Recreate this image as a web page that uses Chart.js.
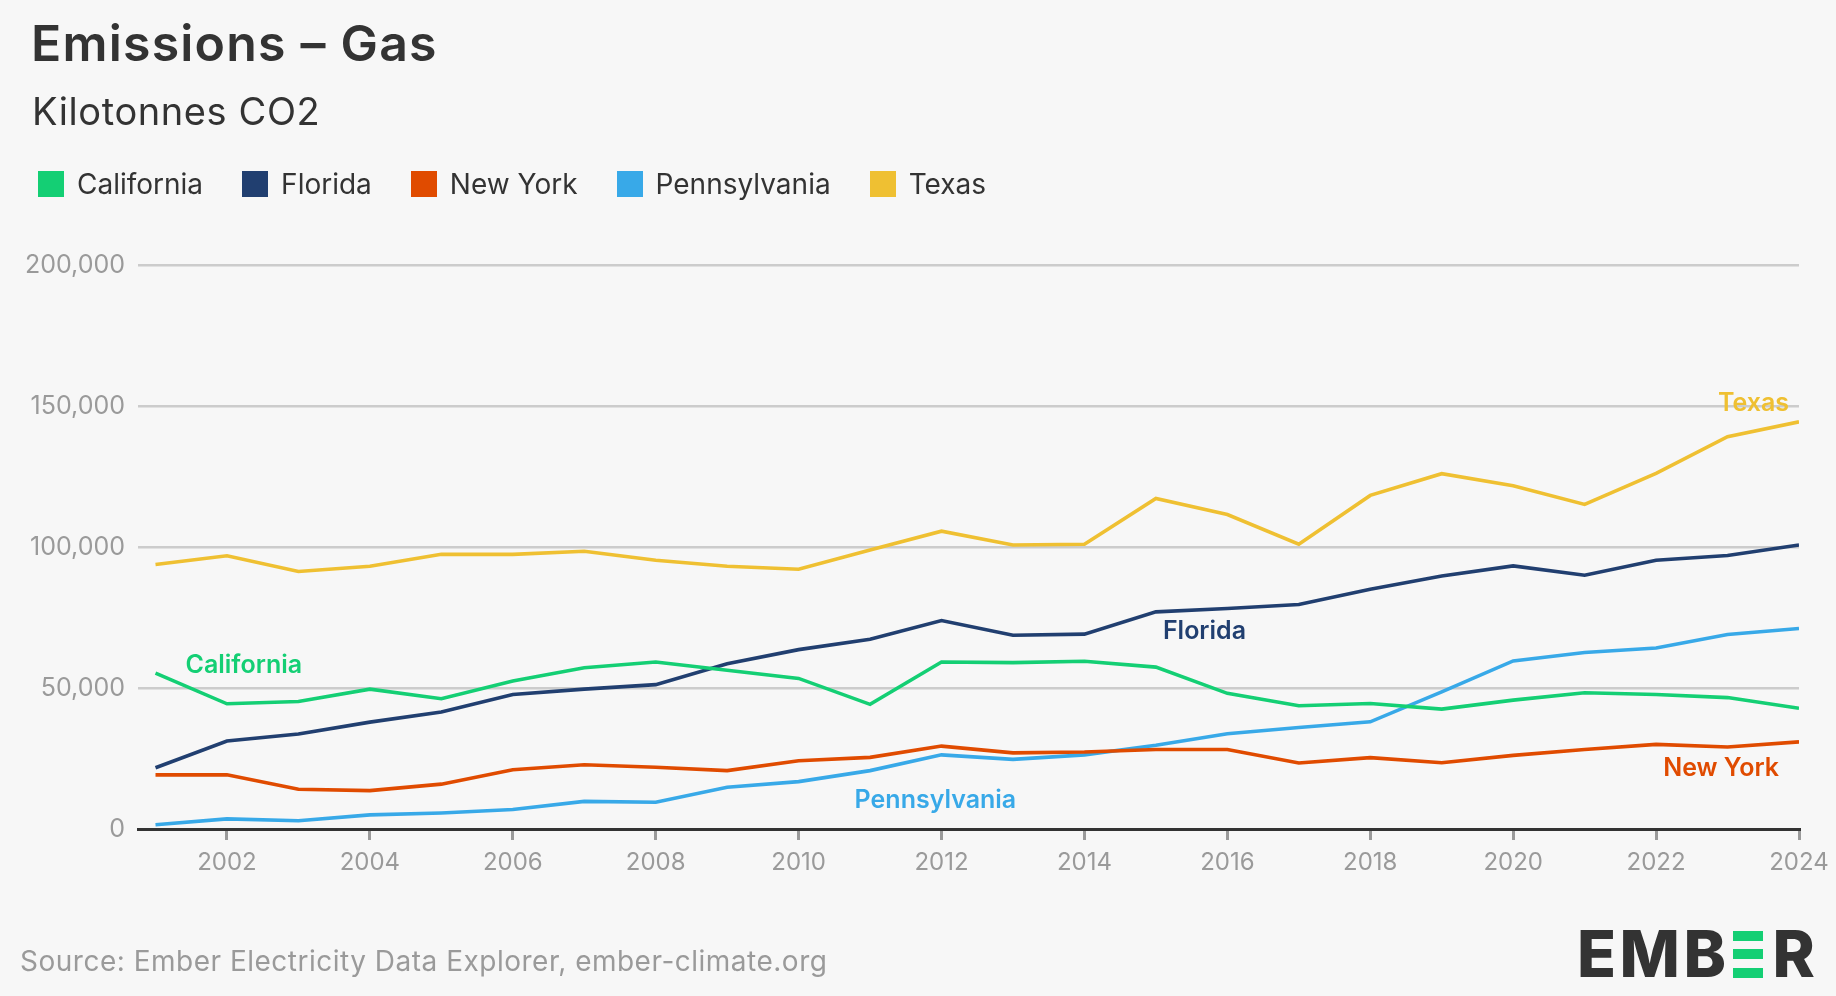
<!DOCTYPE html>
<html>
<head>
<meta charset="utf-8">
<script src="https://cdn.jsdelivr.net/npm/chart.js@4.4.1/dist/chart.umd.min.js"></script>
<style>
  html, body { margin: 0; padding: 0; background: #f7f7f7; }
  body { width: 1836px; height: 996px; position: relative; overflow: hidden; font-family: Inter, "Noto Sans", sans-serif; color: #333; }
  #chart { position: absolute; left: 0; top: 0; }
  .title { position: absolute; left: 31px; top: 18px; font-size: 50px; line-height: 1; font-weight: 600; letter-spacing: 1.2px; }
  .subtitle { position: absolute; left: 32px; top: 92px; font-size: 38px; line-height: 1; font-weight: 400; letter-spacing: 0.6px; }
  .legend { position: absolute; left: 38px; top: 170px; display: flex; align-items: center; font-size: 28px; line-height: 1; }
  .legend .item { display: flex; align-items: center; margin-right: 39px; }
  .legend .box { width: 26px; height: 26px; margin-right: 13px; }
  .source { position: absolute; left: 20px; top: 947px; font-size: 28px; line-height: 1; color: #9a9a9a; letter-spacing: 0.5px; }
  .logo { position: absolute; left: 1577px; top: 922px; display: flex; align-items: center; font-size: 64px; line-height: 1; font-weight: 800; color: #333; letter-spacing: 3.5px; }
  .logo .e { display: flex; flex-direction: column; justify-content: space-between; width: 30px; height: 47px; margin: 0 9px 0 4px; }
  .logo .e div { height: 10px; background: #14cf74; }
</style>
</head>
<body>
<canvas id="chart" width="1836" height="996"></canvas>
<div class="title">Emissions – Gas</div>
<div class="subtitle">Kilotonnes CO2</div>
<div class="legend" id="legend"></div>
<div class="source">Source: Ember Electricity Data Explorer, ember-climate.org</div>
<div class="logo">EMB<span class="e"><div></div><div></div><div></div></span>R</div>
<script>
const years = [2001, 2002, 2003, 2004, 2005, 2006, 2007, 2008, 2009, 2010, 2011, 2012,
  2013, 2014, 2015, 2016, 2017, 2018, 2019, 2020, 2021, 2022, 2023, 2024];
const xTicks = [2002, 2004, 2006, 2008, 2010, 2012, 2014, 2016, 2018, 2020, 2022, 2024];
const yTicks = [0, 50000, 100000, 150000, 200000];

const seriesNames = ["California", "Florida", "New York", "Pennsylvania", "Texas"];
const seriesColors = ["#14cf74", "#213f70", "#e04b00", "#38a9e8", "#efc032"];

// kilotonnes CO2
const california = [55300, 44400, 45200, 49600, 46200, 52500, 57200, 59200, 56300, 53400, 44200, 59200,
  59000, 59500, 57400, 48100, 43700, 44500, 42500, 45700, 48300, 47700, 46600, 42800];
const florida = [21700, 31200, 33700, 37900, 41500, 47700, 49600, 51200, 58600, 63600, 67300, 73900,
  68700, 69100, 77000, 78200, 79600, 85000, 89700, 93300, 90000, 95300, 97000, 100700];
const newYork = [19200, 19200, 14100, 13600, 15900, 21000, 22800, 21900, 20700, 24200, 25400, 29400,
  27000, 27300, 28200, 28200, 23400, 25300, 23500, 26100, 28200, 30000, 29100, 30900];
const pennsylvania = [1500, 3600, 2900, 5000, 5700, 6900, 9800, 9500, 14800, 16800, 20700, 26300,
  24700, 26300, 29700, 33800, 36000, 38000, 48600, 59600, 62600, 64200, 69000, 71100];
const texas = [93800, 96900, 91300, 93200, 97400, 97400, 98500, 95300, 93200, 92100, 98900, 105600,
  100700, 101000, 117200, 111500, 101000, 118300, 126000, 121700, 115100, 126100, 139100, 144400];

const seriesValues = [california, florida, newYork, pennsylvania, texas];

// inline labels: which year's point they hang off, plus a pixel nudge
const lineLabels = [
  { series: 0, year: 2001, dx: 30, dy: 0, align: "left" },
  { series: 1, year: 2015, dx: 7, dy: 27, align: "left" },
  { series: 3, year: 2010, dx: 56, dy: 26, align: "left" },
  { series: 2, year: 2024, dx: -20, dy: 34, align: "right" },
  { series: 4, year: 2024, dx: -10, dy: -11, align: "right" }
];

const legend = document.getElementById("legend");
seriesNames.forEach((name, i) => {
  const item = document.createElement("div");
  item.className = "item";
  item.innerHTML = '<span class="box" style="background:' + seriesColors[i] + '"></span>' + name;
  legend.appendChild(item);
});

const labelPlugin = {
  id: "lineLabels",
  afterDatasetsDraw(chart) {
    const ctx = chart.ctx;
    const x = chart.scales.x, y = chart.scales.y;
    ctx.save();
    ctx.font = "600 25px Inter, 'Noto Sans', sans-serif";
    ctx.textBaseline = "alphabetic";
    lineLabels.forEach((l) => {
      const v = seriesValues[l.series][years.indexOf(l.year)];
      ctx.fillStyle = seriesColors[l.series];
      ctx.textAlign = l.align;
      ctx.fillText(seriesNames[l.series], x.getPixelForValue(l.year) + l.dx, y.getPixelForValue(v) + l.dy);
    });
    ctx.restore();
  }
};

new Chart(document.getElementById("chart"), {
  type: "line",
  data: {
    datasets: seriesNames.map((name, i) => ({
      label: name,
      data: years.map((yr, j) => ({ x: yr, y: seriesValues[i][j] })),
      borderColor: seriesColors[i],
      backgroundColor: seriesColors[i],
      borderWidth: 3.6,
      pointRadius: 0,
      tension: 0
    }))
  },
  options: {
    responsive: false,
    animation: false,
    layout: { padding: { top: 265, left: 0, right: 37, bottom: 107 } },
    plugins: { legend: { display: false }, tooltip: { enabled: false } },
    scales: {
      x: {
        type: "linear",
        min: 2000.755,
        max: 2024,
        afterBuildTicks: (s) => { s.ticks = xTicks.map((v) => ({ value: v })); },
        afterFit: (s) => { s.height = 60; s.paddingLeft = 0; s.paddingRight = 0; },
        grid: { drawOnChartArea: false, drawTicks: true, tickLength: 11, color: "#9a9a9a", lineWidth: 3 },
        border: { color: "#333333", width: 3 },
        ticks: {
          padding: 8,
          color: "#9a9a9a",
          font: { family: "Inter", size: 24 },
          maxRotation: 0,
          autoSkip: false,
          callback: (v) => String(v)
        }
      },
      y: {
        min: 0,
        max: 200000,
        afterBuildTicks: (s) => { s.ticks = yTicks.map((v) => ({ value: v })); },
        afterFit: (s) => { s.width = 138; s.paddingTop = 0; s.paddingBottom = 0; },
        grid: { color: "#cccccc", lineWidth: 2.5, drawTicks: false },
        border: { display: false },
        ticks: {
          padding: 13,
          color: "#9a9a9a",
          font: { family: "Inter", size: 25 },
          callback: (v) => v.toLocaleString("en-US")
        }
      }
    }
  },
  plugins: [labelPlugin]
});
</script>
</body>
</html>
